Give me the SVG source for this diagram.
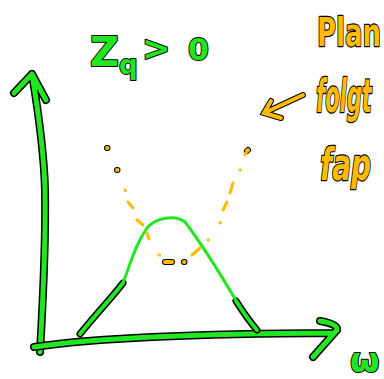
<svg xmlns="http://www.w3.org/2000/svg" width="384" height="379" viewBox="0 0 384 379">
<style>
.ol{fill:none;stroke:#000;stroke-width:8;stroke-linecap:round;stroke-linejoin:round}
.g{fill:none;stroke:#22e622;stroke-width:5;stroke-linecap:round;stroke-linejoin:round}
.gt{fill:none;stroke:#22e622;stroke-width:3;stroke-linecap:round;stroke-linejoin:round}
.o{fill:none;stroke:#ffbb00;stroke-width:3;stroke-linecap:round}
.olo{fill:none;stroke:#000;stroke-width:6;stroke-linecap:round}
.oo{fill:none;stroke:#ffbb00;stroke-width:4;stroke-linecap:round}
.ht{font-family:"DejaVu Sans",sans-serif;font-weight:bold;stroke:#000;stroke-width:2;paint-order:stroke;stroke-linejoin:round}
</style>
<rect width="384" height="379" fill="#fff"/>
<g id="y-axis">
<path class="ol" d="M40,352 C43,300 46,240 45,190 C44,150 38,110 32,74 M14,93 L32,74 L46,100"/>
<path class="g" d="M40,352 C43,300 46,240 45,190 C44,150 38,110 32,74 M14,93 L32,74 L46,100"/>
</g>
<g id="x-axis">
<path class="ol" d="M34,347 Q120,334 334,333 M320,321 Q338,324 337,330 L313,357"/>
<path class="g" d="M34,347 Q120,334 334,333 M320,321 Q338,324 337,330 L313,357"/>
</g>
<g id="bell-curve">
<path class="ol" style="stroke-width:7" d="M80,334 C95,315 110,300 123,283 M236,301 C245,315 250,322 257,330"/>
<path class="g" style="stroke-width:4" d="M80,334 C95,315 110,300 123,283 M236,301 C245,315 250,322 257,330"/>
<path class="gt" d="M123,283 C130,265 135,245 147,228 C155,218 175,214 185,222 C195,235 215,265 237,302"/>
</g>
<g id="dashed-curve">
<path class="olo" d="M107,148 L107.5,148 M117,170 L117.5,170 M165,262 L172,262 M184,262 L184.5,262 M247,151 L248,150"/>
<path class="oo" d="M107,148 L107.5,148 M117,170 L117.5,170 M165,262 L172,262 M184,262 L184.5,262 M247,151 L248,150"/>
<path class="o" d="M125,190 L125.5,190.5 M128,202 L133,208 M137,220 L143,225 M147,233 L149,239 M159,255 L159.5,255 M192,255 L200,248 M208,240 L208.5,240 M220,223 L220.5,222.5 M223,210 L227,202 M230,193 L233,183 M240,170 L240.5,170 M245,155 L246,153"/>
</g>
<g id="arrow-label">
<path class="olo" d="M303,95 L264,113 M271,101 L264,113 L281,118"/>
<path class="oo" d="M303,95 L264,113 M271,101 L264,113 L281,118"/>
</g>
<g id="condition">
<text class="ht" x="90" y="66" font-size="40" fill="#22e622">Z<tspan font-size="26" dy="8">q</tspan></text>
<text class="ht" x="142" y="60" font-size="34" fill="#22e622">&gt;</text>
<text class="ht" x="188" y="60" font-size="30" fill="#22e622">0</text>
</g>
<g id="notes">
<text class="ht" transform="translate(317,46) scale(1,1.5)" font-size="26" fill="#ffbb00" style="stroke-width:1.5">Plan</text>
<text class="ht" transform="translate(316,112) scale(1,2.2)" font-size="21" font-style="italic" fill="#ffbb00" style="stroke-width:1.2">folgt</text>
<text class="ht" transform="translate(320,180) scale(1,1.6)" font-size="28" font-style="italic" fill="#ffbb00" style="stroke-width:1.5">fap</text>
</g>
<g id="omega">
<text class="ht" x="350" y="372" font-size="34" fill="#22e622">ω</text>
</g>
</svg>
